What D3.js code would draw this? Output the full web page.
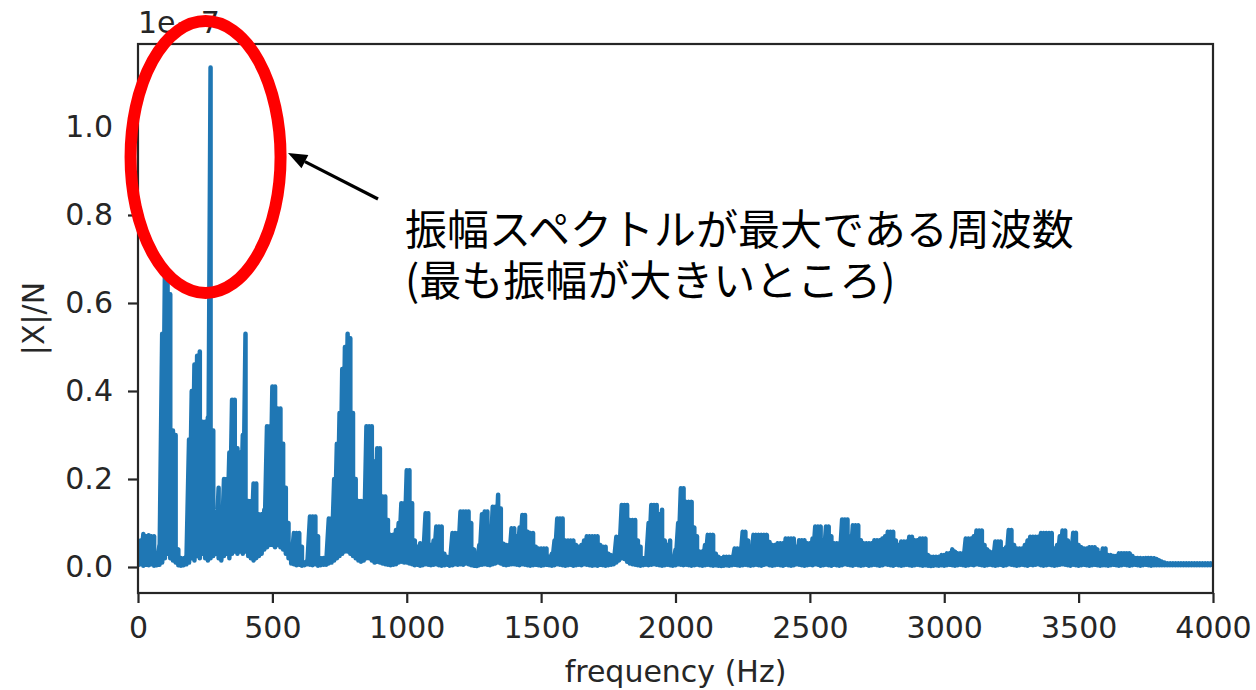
<!DOCTYPE html>
<html>
<head>
<meta charset="utf-8">
<script src="https://cdn.jsdelivr.net/npm/d3@7"></script>
<style>
	body { margin: 0; background: #fff; }
</style>
</head>
<body>
<script>
// FFT bin spacing (Hz); amplitudes are in units of 1e-7
const binHz = 10;

// upper edge of |X|/N in each 10 Hz bin, 0 .. 4000 Hz (one row = 100 Hz)
const peakAmp = [
	0.06, 0.06, 0.075, 0.07, 0.072, 0.07, 0.07, 0.02, 0.05, 0.53,
	0.66, 0.67, 0.62, 0.31, 0.30, 0.04, 0.02, 0.02, 0.025, 0.29,
	0.40, 0.46, 0.48, 0.49, 0.33, 0.33, 0.34, 1.135, 0.31, 0.12,
	0.18, 0.10, 0.20, 0.20, 0.26, 0.38, 0.38, 0.27, 0.26, 0.30,
	0.53, 0.15, 0.15, 0.19, 0.19, 0.12, 0.12, 0.13, 0.32, 0.32,
	0.41, 0.41, 0.36, 0.36, 0.28, 0.18, 0.10, 0.025, 0.077, 0.077,
	0.077, 0.046, 0.01, 0.015, 0.115, 0.115, 0.115, 0.07, 0.02, 0.02,
	0.02, 0.11, 0.11, 0.20, 0.28, 0.35, 0.45, 0.50, 0.53, 0.52,
	0.35, 0.20, 0.15, 0.15, 0.15, 0.32, 0.32, 0.32, 0.24, 0.27,
	0.27, 0.16, 0.16, 0.107, 0.073, 0.073, 0.084, 0.10, 0.145, 0.145,
	0.22, 0.22, 0.145, 0.06, 0.046, 0.054, 0.054, 0.122, 0.122, 0.05,
	0.06, 0.092, 0.092, 0.092, 0.03, 0.023, 0.023, 0.077, 0.077, 0.077,
	0.126, 0.126, 0.126, 0.126, 0.10, 0.04, 0.016, 0.05, 0.12, 0.126,
	0.126, 0.092, 0.137, 0.137, 0.164, 0.133, 0.053, 0.05, 0.05, 0.088,
	0.088, 0.07, 0.09, 0.118, 0.118, 0.08, 0.077, 0.077, 0.046, 0.042,
	0.042, 0.042, 0.042, 0.023, 0.03, 0.06, 0.11, 0.11, 0.11, 0.06,
	0.06, 0.06, 0.06, 0.05, 0.046, 0.05, 0.06, 0.07, 0.07, 0.07,
	0.07, 0.07, 0.05, 0.046, 0.046, 0.03, 0.027, 0.023, 0.069, 0.069,
	0.141, 0.141, 0.141, 0.107, 0.107, 0.107, 0.06, 0.046, 0.02, 0.008,
	0.10, 0.141, 0.141, 0.141, 0.12, 0.13, 0.06, 0.05, 0.06, 0.023,
	0.039, 0.10, 0.179, 0.179, 0.148, 0.148, 0.148, 0.09, 0.07, 0.035,
	0.035, 0.05, 0.073, 0.073, 0.073, 0.03, 0.023, 0.02, 0.023, 0.023,
	0.023, 0.023, 0.042, 0.042, 0.042, 0.08, 0.08, 0.06, 0.046, 0.073,
	0.073, 0.073, 0.073, 0.073, 0.073, 0.057, 0.05, 0.05, 0.054, 0.054,
	0.054, 0.065, 0.065, 0.065, 0.065, 0.046, 0.061, 0.061, 0.061, 0.054,
	0.054, 0.065, 0.092, 0.092, 0.092, 0.061, 0.092, 0.092, 0.07, 0.054,
	0.054, 0.054, 0.108, 0.108, 0.108, 0.07, 0.095, 0.095, 0.095, 0.061,
	0.054, 0.054, 0.054, 0.054, 0.061, 0.061, 0.061, 0.065, 0.07, 0.08,
	0.08, 0.08, 0.06, 0.05, 0.058, 0.058, 0.058, 0.069, 0.069, 0.061,
	0.061, 0.065, 0.065, 0.065, 0.027, 0.023, 0.023, 0.023, 0.023, 0.027,
	0.027, 0.031, 0.031, 0.04, 0.035, 0.031, 0.031, 0.031, 0.065, 0.065,
	0.065, 0.07, 0.083, 0.083, 0.083, 0.05, 0.04, 0.035, 0.031, 0.058,
	0.058, 0.058, 0.04, 0.045, 0.084, 0.084, 0.05, 0.042, 0.042, 0.042,
	0.05, 0.06, 0.069, 0.069, 0.069, 0.069, 0.077, 0.077, 0.077, 0.077,
	0.077, 0.042, 0.05, 0.07, 0.083, 0.083, 0.06, 0.054, 0.078, 0.078,
	0.05, 0.045, 0.042, 0.042, 0.045, 0.045, 0.045, 0.04, 0.031, 0.042,
	0.042, 0.027, 0.027, 0.025, 0.025, 0.031, 0.031, 0.031, 0.031, 0.031,
	0.025, 0.02, 0.02, 0.02, 0.02, 0.02, 0.02, 0.02, 0.02, 0.018,
	0.015, 0.012, 0.01, 0.008, 0.008, 0.008, 0.008, 0.008, 0.008, 0.008,
	0.008, 0.008, 0.008, 0.008, 0.008, 0.008, 0.008, 0.008, 0.008, 0.008,
	0.008
];

// lower edge (the line drops back to this between peaks)
const floorAmp = [
	0.004, 0.006, 0.003, 0.005, 0.004, 0.006, 0.003, 0.004, 0.005, 0.01,
	0.02, 0.03, 0.02, 0.015, 0.01, 0.004, 0.003, 0.004, 0.006, 0.01,
	0.02, 0.015, 0.025, 0.02, 0.03, 0.02, 0.015, 0.02, 0.025, 0.03,
	0.02, 0.015, 0.025, 0.03, 0.02, 0.03, 0.035, 0.03, 0.035, 0.03,
	0.035, 0.025, 0.02, 0.015, 0.02, 0.025, 0.03, 0.04, 0.045, 0.05,
	0.05, 0.045, 0.05, 0.045, 0.04, 0.03, 0.02, 0.008, 0.006, 0.004,
	0.005, 0.003, 0.004, 0.006, 0.005, 0.004, 0.006, 0.003, 0.004, 0.005,
	0.005, 0.008, 0.01, 0.015, 0.02, 0.025, 0.03, 0.035, 0.035, 0.03,
	0.025, 0.02, 0.015, 0.012, 0.015, 0.02, 0.02, 0.015, 0.01, 0.012,
	0.01, 0.008, 0.006, 0.005, 0.004, 0.005, 0.006, 0.01, 0.012, 0.01,
	0.01, 0.008, 0.006, 0.004, 0.005, 0.003, 0.004, 0.006, 0.005, 0.004,
	0.005, 0.006, 0.004, 0.003, 0.004, 0.005, 0.003, 0.004, 0.006, 0.005,
	0.006, 0.005, 0.008, 0.006, 0.004, 0.003, 0.002, 0.004, 0.005, 0.006,
	0.005, 0.004, 0.006, 0.008, 0.01, 0.008, 0.005, 0.004, 0.005, 0.006,
	0.006, 0.005, 0.004, 0.006, 0.005, 0.004, 0.003, 0.004, 0.005, 0.004,
	0.003, 0.004, 0.005, 0.004, 0.003, 0.004, 0.006, 0.005, 0.004, 0.003,
	0.004, 0.005, 0.003, 0.004, 0.005, 0.004, 0.006, 0.005, 0.004, 0.003,
	0.004, 0.003, 0.005, 0.004, 0.003, 0.004, 0.005, 0.006, 0.01, 0.015,
	0.02, 0.018, 0.012, 0.008, 0.006, 0.005, 0.004, 0.003, 0.004, 0.005,
	0.004, 0.005, 0.006, 0.005, 0.004, 0.003, 0.004, 0.005, 0.004, 0.003,
	0.004, 0.006, 0.005, 0.004, 0.005, 0.004, 0.003, 0.004, 0.005, 0.004,
	0.003, 0.004, 0.005, 0.004, 0.003, 0.004, 0.003, 0.002, 0.003, 0.004,
	0.003, 0.004, 0.005, 0.004, 0.003, 0.004, 0.005, 0.004, 0.003, 0.004,
	0.005, 0.004, 0.003, 0.005, 0.006, 0.004, 0.003, 0.004, 0.005, 0.004,
	0.003, 0.005, 0.004, 0.003, 0.004, 0.006, 0.005, 0.004, 0.003, 0.004,
	0.005, 0.004, 0.006, 0.005, 0.003, 0.004, 0.005, 0.004, 0.003, 0.005,
	0.004, 0.003, 0.004, 0.006, 0.005, 0.004, 0.003, 0.005, 0.004, 0.003,
	0.004, 0.005, 0.003, 0.004, 0.005, 0.004, 0.003, 0.004, 0.006, 0.005,
	0.004, 0.003, 0.005, 0.004, 0.003, 0.004, 0.005, 0.004, 0.003, 0.004,
	0.005, 0.004, 0.003, 0.004, 0.003, 0.002, 0.003, 0.004, 0.003, 0.004,
	0.003, 0.004, 0.005, 0.004, 0.003, 0.004, 0.005, 0.004, 0.003, 0.004,
	0.005, 0.004, 0.006, 0.005, 0.004, 0.003, 0.004, 0.005, 0.004, 0.003,
	0.004, 0.005, 0.003, 0.004, 0.006, 0.005, 0.004, 0.003, 0.004, 0.005,
	0.004, 0.003, 0.005, 0.004, 0.005, 0.006, 0.004, 0.003, 0.004, 0.005,
	0.004, 0.003, 0.004, 0.005, 0.006, 0.005, 0.004, 0.003, 0.005, 0.004,
	0.003, 0.004, 0.005, 0.004, 0.003, 0.004, 0.005, 0.004, 0.003, 0.004,
	0.004, 0.003, 0.004, 0.005, 0.004, 0.003, 0.004, 0.005, 0.004, 0.003,
	0.004, 0.005, 0.004, 0.003, 0.004, 0.005, 0.004, 0.003, 0.004, 0.004,
	0.004, 0.004, 0.004, 0.004, 0.004, 0.004, 0.004, 0.004, 0.004, 0.004,
	0.004, 0.004, 0.004, 0.004, 0.004, 0.004, 0.004, 0.004, 0.004, 0.004,
	0.004
];

const xTicks = [ 0, 500, 1000, 1500, 2000, 2500, 3000, 3500, 4000 ];
const yTicks = [ 0.0, 0.2, 0.4, 0.6, 0.8, 1.0 ];
const noteLines = [ "振幅スペクトルが最大である周波数", "(最も振幅が大きいところ)" ];

const width = 1256, height = 690;
const plot = { left: 138, right: 1213, top: 44, bottom: 593 };
const ink = "#262626";
const tickFont = "DejaVu Sans, sans-serif";

const xScale = d3.scaleLinear()
	.domain( [ 0, 4000 ] )
	.range( [ plot.left, plot.right ] );

const yScale = d3.scaleLinear()
	.domain( [ -0.0591, 1.1886 ] )
	.range( [ plot.bottom, plot.top ] );

const svg = d3.select( "body" ).append( "svg" )
	.attr( "width", width )
	.attr( "height", height )
	.style( "display", "block" );

svg.append( "rect" )
	.attr( "width", width )
	.attr( "height", height )
	.attr( "fill", "#fff" );

svg.append( "clipPath" )
	.attr( "id", "plotclip" )
	.append( "rect" )
	.attr( "x", plot.left )
	.attr( "y", plot.top )
	.attr( "width", plot.right - plot.left )
	.attr( "height", plot.bottom - plot.top );

// spectrum: the line swings from each bin's peak down to its floor
const points = peakAmp.flatMap( ( p, i ) => [
	{ f: i * binHz, v: p },
	{ f: i * binHz, v: floorAmp[ i ] }
] );

const line = d3.line()
	.x( d => xScale( d.f ) )
	.y( d => yScale( d.v ) );

svg.append( "path" )
	.datum( points )
	.attr( "clip-path", "url(#plotclip)" )
	.attr( "d", line )
	.attr( "fill", "none" )
	.attr( "stroke", "#1f77b4" )
	.attr( "stroke-width", 4.5 )
	.attr( "stroke-linejoin", "round" );

// axes
const xAxis = svg.append( "g" )
	.attr( "transform", `translate(0, ${ plot.bottom })` )
	.call( d3.axisBottom( xScale ).tickValues( xTicks ).tickFormat( d3.format( "d" ) )
		.tickSize( 10 ).tickSizeOuter( 0 ).tickPadding( 14 ) );

const yAxis = svg.append( "g" )
	.attr( "transform", `translate(${ plot.left }, 0)` )
	.call( d3.axisLeft( yScale ).tickValues( yTicks ).tickFormat( d3.format( ".1f" ) )
		.tickSize( 10 ).tickSizeOuter( 0 ).tickPadding( 15 ) );

[ xAxis, yAxis ].forEach( g => {
	g.select( ".domain" ).remove();
	g.selectAll( ".tick line" ).attr( "stroke", ink ).attr( "stroke-width", 2.2 );
	g.selectAll( ".tick text" )
		.attr( "fill", ink )
		.style( "font-family", tickFont )
		.style( "font-size", "30px" );
} );

// frame
svg.append( "rect" )
	.attr( "x", plot.left )
	.attr( "y", plot.top )
	.attr( "width", plot.right - plot.left )
	.attr( "height", plot.bottom - plot.top )
	.attr( "fill", "none" )
	.attr( "stroke", ink )
	.attr( "stroke-width", 2.2 );

// labels
svg.append( "text" )
	.attr( "x", ( plot.left + plot.right ) / 2 )
	.attr( "y", 682 )
	.attr( "text-anchor", "middle" )
	.attr( "fill", ink )
	.style( "font-family", tickFont )
	.style( "font-size", "30px" )
	.text( "frequency (Hz)" );

svg.append( "text" )
	.attr( "transform", `translate(44, ${ ( plot.top + plot.bottom ) / 2 }) rotate(-90)` )
	.attr( "text-anchor", "middle" )
	.attr( "fill", ink )
	.style( "font-family", tickFont )
	.style( "font-size", "30px" )
	.text( "|X|/N" );

svg.append( "text" )
	.attr( "x", plot.left )
	.attr( "y", 33 )
	.attr( "fill", ink )
	.style( "font-family", tickFont )
	.style( "font-size", "30px" )
	.text( "1e\u22127" );

// annotation: red ellipse round the largest peak, arrow and note
const peakIndex = d3.maxIndex( peakAmp );
svg.append( "ellipse" )
	.attr( "cx", xScale( peakIndex * binHz ) - 5 )
	.attr( "cy", 157 )
	.attr( "rx", 75 )
	.attr( "ry", 136 )
	.attr( "fill", "none" )
	.attr( "stroke", "#ff0000" )
	.attr( "stroke-width", 12 );

const tail = [ 378, 199 ], tip = [ 288, 153 ];
const dx = tip[0] - tail[0], dy = tip[1] - tail[1];
const len = Math.hypot( dx, dy );
const ux = dx / len, uy = dy / len;
const headLen = 19, headHalf = 7.5;
const base = [ tip[0] - ux * headLen, tip[1] - uy * headLen ];

svg.append( "line" )
	.attr( "x1", tail[0] ).attr( "y1", tail[1] )
	.attr( "x2", base[0] ).attr( "y2", base[1] )
	.attr( "stroke", "#000" )
	.attr( "stroke-width", 3.2 );

svg.append( "polygon" )
	.attr( "points", [
		tip,
		[ base[0] - uy * headHalf, base[1] + ux * headHalf ],
		[ base[0] + uy * headHalf, base[1] - ux * headHalf ]
	].map( p => p.join( "," ) ).join( " " ) )
	.attr( "fill", "#000" );

svg.append( "g" )
	.selectAll( "text" )
	.data( noteLines )
	.join( "text" )
	.attr( "x", 405 )
	.attr( "y", ( d, i ) => 245 + i * 51 )
	.attr( "fill", "#000" )
	.style( "font-family", "'Noto Sans CJK JP', sans-serif" )
	.style( "font-size", "42px" )
	.text( d => d );
</script>
</body>
</html>
